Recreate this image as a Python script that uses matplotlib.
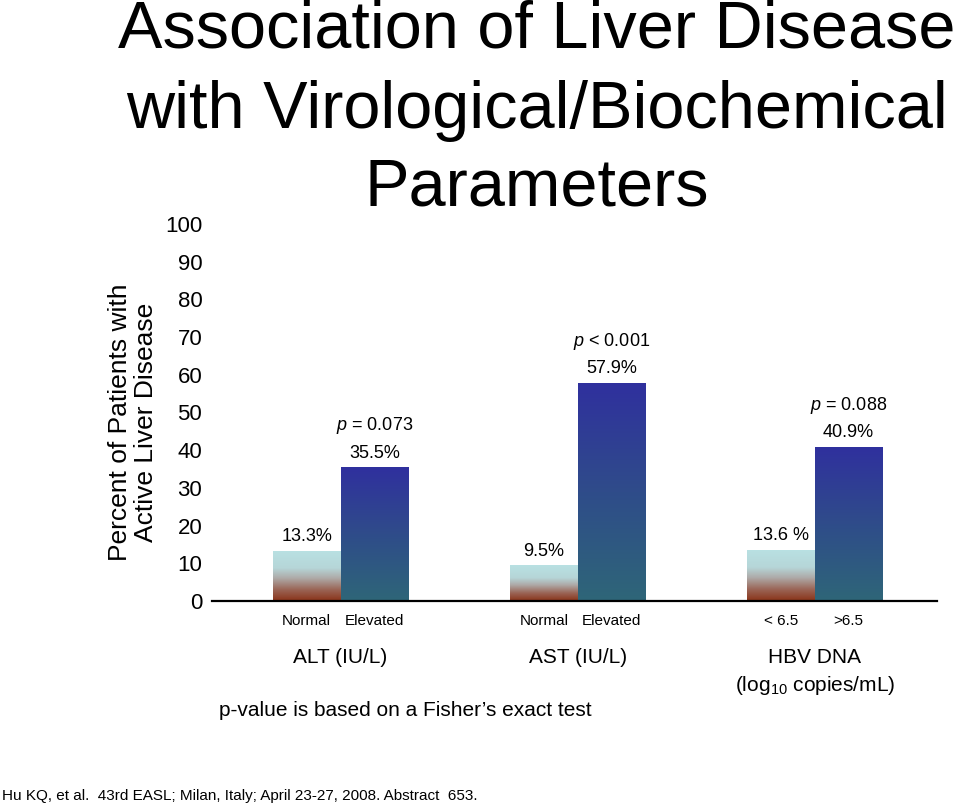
import matplotlib
matplotlib.use("Agg")
import matplotlib.pyplot as plt
import numpy as np
from matplotlib.colors import LinearSegmentedColormap
from matplotlib.transforms import blended_transform_factory

plt.rcParams['font.family'] = ['Liberation Sans', 'DejaVu Sans']
plt.rcParams['mathtext.fontset'] = 'custom'
plt.rcParams['mathtext.rm'] = 'Liberation Sans'
plt.rcParams['mathtext.it'] = 'Liberation Sans:italic'

# ---- data ----
groups = ["ALT (IU/L)", "AST (IU/L)", "HBV DNA\n(log$_{10}$ copies/mL)"]
low_labels = ["Normal", "Normal", "< 6.5"]
high_labels = ["Elevated", "Elevated", ">6.5"]
low_values = [13.3, 9.5, 13.6]
high_values = [35.5, 57.9, 40.9]
low_text = ["13.3%", "9.5%", "13.6 %"]
high_text = ["35.5%", "57.9%", "40.9%"]
p_text = ["$p$ = 0.073", "$p$ < 0.001", "$p$ = 0.088"]
yticks = [0, 10, 20, 30, 40, 50, 60, 70, 80, 90, 100]

W, H = 960, 805
fig = plt.figure(figsize=(W / 100, H / 100), dpi=100)
def fx(x): return x / W
def fy(y): return 1 - y / H

ax = fig.add_axes([fx(212), fy(601), fx(937) - fx(212), fy(224) - fy(601)])

x = np.arange(len(groups))
bw = 0.285
low_cmap = LinearSegmentedColormap.from_list(
    "low", [(0.0, "#8a3318"), (0.22, "#9a6455"), (0.45, "#aeaaa8"),
            (0.65, "#b6d6d8"), (1.0, "#b9e1e3")])
high_cmap = LinearSegmentedColormap.from_list(
    "high", [(0.0, "#2e6678"), (0.5, "#2f4c8a"), (1.0, "#30309e")])

grad = np.linspace(0, 1, 256).reshape(-1, 1)

def grad_bars(xs, vals, cmap):
    bars = ax.bar(xs, vals, width=bw, color="none", edgecolor="none", zorder=2)
    for b in bars:
        x0, y0 = b.get_x(), b.get_y()
        w, h = b.get_width(), b.get_height()
        im = ax.imshow(grad, cmap=cmap, origin="lower", aspect="auto",
                       extent=(x0, x0 + w, y0, y0 + h), zorder=2,
                       interpolation="bilinear")
        im.set_clip_path(b)
    return bars

lb = grad_bars(x - bw / 2, low_values, low_cmap)
hb = grad_bars(x + bw / 2, high_values, high_cmap)

ax.set_xlim(-0.542, 2.515)
ax.set_ylim(0, 100)

for s in ["top", "right", "left"]:
    ax.spines[s].set_visible(False)
ax.spines["bottom"].set_linewidth(1.6)
ax.spines["bottom"].set_zorder(3)

ax.set_yticks(yticks)
ax.set_yticklabels([str(t) for t in yticks], fontsize=16)
ax.tick_params(axis="y", length=0, pad=7)

xt = list(x - bw / 2) + list(x + bw / 2)
xl = low_labels + high_labels
ax.set_xticks(xt)
ax.set_xticklabels(xl, fontsize=11)
ax.tick_params(axis="x", length=0, pad=9)

for i in range(len(groups)):
    ax.annotate(low_text[i], (x[i] - bw / 2, low_values[i]), xytext=(0, 10),
                textcoords="offset points", ha="center", va="center", fontsize=13)
    ax.annotate(high_text[i], (x[i] + bw / 2, high_values[i]), xytext=(0, 10),
                textcoords="offset points", ha="center", va="center", fontsize=13)
    ax.annotate(p_text[i], (x[i] + bw / 2, high_values[i]), xytext=(0, 30),
                textcoords="offset points", ha="center", va="center", fontsize=13)

tr = blended_transform_factory(ax.transData, fig.transFigure)
for i, g in enumerate(groups):
    ax.text(x[i], fy(648), g, transform=tr, ha="center", va="top",
            fontsize=15, linespacing=1.4)

fig.text(fx(405), fy(710), "p-value is based on a Fisher\u2019s exact test",
         ha="center", va="center", fontsize=15)
fig.text(fx(2), fy(796), "Hu KQ, et al.  43rd EASL; Milan, Italy; April 23-27, 2008. Abstract  653.",
         ha="left", va="center", fontsize=11)

fig.text(fx(133), fy(422), "Percent of Patients with\nActive Liver Disease",
         rotation=90, ha="center", va="center", fontsize=19, linespacing=1.1)

title_lines = ["Association of Liver Disease", "with Virological/Biochemical", "Parameters"]
title_base = [48, 128, 206]
for t, yb in zip(title_lines, title_base):
    fig.text(fx(537), fy(yb), t, ha="center", va="baseline", fontsize=48)

fig.savefig("out.png", dpi=100)
